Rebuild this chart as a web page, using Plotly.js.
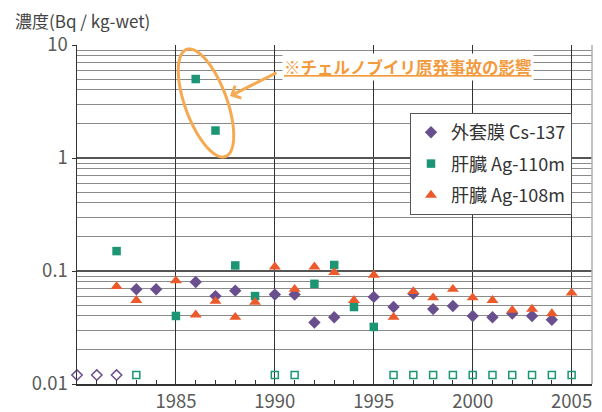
<!DOCTYPE html>
<html>
<head>
<meta charset="utf-8">
<script src="https://cdn.plot.ly/plotly-3.0.1.min.js"></script>
<style>html,body{margin:0;padding:0;background:#fff;}#chart{width:602px;height:412px;}</style>
</head>
<body>
<div id="chart"></div>
<script>
// ---- data ----
const csYears = [1983,1984,1986,1987,1988,1990,1991,1992,1993,1995,1996,1997,1998,1999,2000,2001,2002,2003,2004];
const csValues = [0.069,0.069,0.080,0.060,0.067,0.062,0.062,0.035,0.039,0.059,0.048,0.063,0.046,0.049,0.040,0.039,0.042,0.040,0.037];
const csNDYears = [1980,1981,1982];

const ag110Years = [1982,1985,1986,1987,1988,1989,1992,1993,1994,1995];
const ag110Values = [0.15,0.040,5.0,1.75,0.112,0.060,0.077,0.113,0.048,0.032];
const ag110NDYears = [1983,1990,1991,1996,1997,1998,1999,2000,2001,2002,2003,2004,2005];

const ag108Years = [1982,1983,1985,1986,1987,1988,1989,1990,1991,1992,1993,1994,1995,1996,1997,1998,1999,2000,2001,2002,2003,2004,2005];
const ag108Values = [0.073,0.055,0.082,0.041,0.054,0.039,0.053,0.109,0.069,0.109,0.097,0.055,0.092,0.039,0.066,0.058,0.069,0.058,0.055,0.045,0.046,0.042,0.064];

const ndLevel = 0.012;
const seriesNames = ['外套膜 Cs-137','肝臓 Ag-110m','肝臓 Ag-108m'];
const xTickVals = [1985,1990,1995,2000,2005];
const yTickVals = [0.01,0.1,1,10];
const yTickText = ['0.01','0.1','1','10'];
const yTitle = '濃度(Bq / kg-wet)';
const noteText = '※チェルノブイリ原発事故の影響';

// ---- style ----
const FONT = '"Noto Sans CJK JP", "Noto Sans", sans-serif';
const cPurple = '#6a4f8e', cGreen = '#1b9573', cOrange = '#ec5a2b';
const W = 602, H = 412, L = 77, R = 10, T = 45, B = 28;
const pw = W - L - R, ph = H - T - B;
const px2x = p => (p - L) / pw;
const py2y = p => 1 - (p - T) / ph;

const minorY = [];
[0.01,0.1,1].forEach(d => { for (let k = 2; k <= 9; k++) minorY.push(+(d*k).toPrecision(2)); });
const minorX = [];
for (let yr = 1980; yr <= 2006; yr++) minorX.push(yr);

const traces = [
  {x: csNDYears, y: csNDYears.map(() => ndLevel), mode: 'markers', type: 'scatter', showlegend: false, cliponaxis: false,
   marker: {symbol: 'diamond-open', size: 8, color: cPurple, line: {width: 1.5}}, hoverinfo: 'skip'},
  {x: ag110NDYears, y: ag110NDYears.map(() => ndLevel), mode: 'markers', type: 'scatter', showlegend: false, cliponaxis: false,
   marker: {symbol: 'square-open', size: 7, color: cGreen, line: {width: 1.5}}, hoverinfo: 'skip'},
  {x: csYears, y: csValues, name: seriesNames[0], legendgroup: 'a', mode: 'markers', type: 'scatter', cliponaxis: false,
   marker: {symbol: 'diamond', size: 9.5, color: cPurple}},
  {x: ag110Years, y: ag110Values, name: seriesNames[1], legendgroup: 'b', mode: 'markers', type: 'scatter', cliponaxis: false,
   marker: {symbol: 'square', size: 8.5, color: cGreen}},
  {x: ag108Years, y: ag108Values, name: seriesNames[2], legendgroup: 'c', mode: 'markers', type: 'scatter', cliponaxis: false,
   marker: {symbol: 'triangle-up', size: 10.5, color: cOrange}}
];

// ellipse around the Chernobyl points (decoration)
const cx = 206, cy = 103, a = 57, b = 21, th = 20 * Math.PI / 180;
let path = '';
for (let i = 0; i <= 72; i++) {
  const t = i / 72 * 2 * Math.PI;
  const ex = cx + a * Math.cos(t) * Math.sin(th) + b * Math.sin(t) * Math.cos(th);
  const ey = cy + a * Math.cos(t) * Math.cos(th) - b * Math.sin(t) * Math.sin(th);
  path += (i === 0 ? 'M' : 'L') + px2x(ex).toFixed(4) + ',' + py2y(ey).toFixed(4);
}
path += 'Z';

const layout = {
  width: W, height: H,
  margin: {l: L, r: R, t: T, b: B, pad: 0},
  paper_bgcolor: '#fff', plot_bgcolor: '#fff',
  font: {family: FONT, color: '#555', size: 16},
  showlegend: true,
  title: {text: yTitle, font: {family: FONT, size: 17, color: '#444'}, xref: 'container', yref: 'container',
          x: 15 / W, xanchor: 'left', y: 1 - 22 / H, yanchor: 'middle'},
  xaxis: {
    range: [1980, 2006.03], tickmode: 'array', tickvals: xTickVals,
    showgrid: true, gridcolor: '#333', gridwidth: 1, zeroline: false,
    showline: true, linecolor: '#333', linewidth: 1.5,
    ticks: 'inside', ticklen: 4, tickcolor: '#333',
    tickfont: {family: FONT, size: 18.5, color: '#5a5a5a'},
    minor: {tickmode: 'array', tickvals: minorX, ticks: 'inside', ticklen: 4, tickcolor: '#333', showgrid: false}
  },
  yaxis: {
    type: 'log', range: [-2, 1], tickmode: 'array', tickvals: yTickVals, ticktext: yTickText,
    showgrid: true, gridcolor: '#555', gridwidth: 1.6, zeroline: false,
    showline: true, linecolor: '#333', linewidth: 1.5,
    ticks: 'outside', ticklen: 4, tickcolor: '#333',
    tickfont: {family: FONT, size: 18.5, color: '#5a5a5a'},
    minor: {tickmode: 'array', tickvals: minorY, showgrid: true, gridcolor: '#8a8a8a', gridwidth: 1, ticks: ''}
  },
  legend: {
    x: px2x(410), y: py2y(113), xanchor: 'left', yanchor: 'top',
    bgcolor: '#fff', bordercolor: '#555', borderwidth: 1,
    font: {family: FONT, size: 18, color: '#333'},
    traceorder: 'grouped', tracegroupgap: 5
  },
  shapes: [
    {type: 'line', xref: 'paper', yref: 'paper', x0: 1, x1: 1, y0: 0, y1: 1, line: {color: '#b0b0b0', width: 1.5}},
    {type: 'path', xref: 'paper', yref: 'paper', path: path, line: {color: '#f5aa52', width: 3}}
  ],
  annotations: [
    {xref: 'paper', yref: 'paper', x: px2x(282), y: py2y(67), xanchor: 'left', yanchor: 'middle', showarrow: false,
     text: '<u>' + noteText + '</u>', font: {family: FONT, size: 16.5, color: '#f39a3c', weight: 'bold'}, bgcolor: '#fff'},
    {xref: 'paper', yref: 'paper', x: px2x(230), y: py2y(96), ax: 48, ay: -24, text: '', showarrow: true,
     arrowhead: 4, arrowsize: 0.9, arrowwidth: 3, arrowcolor: '#f5aa52'}
  ]
};

Plotly.newPlot('chart', traces, layout, {staticPlot: true, displayModeBar: false});
</script>
</body>
</html>
